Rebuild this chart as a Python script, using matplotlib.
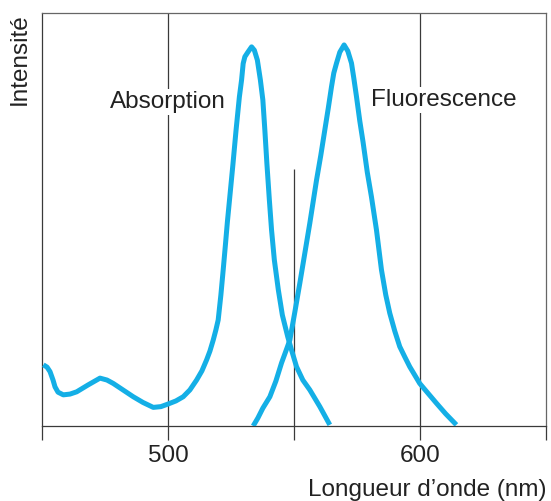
import matplotlib.pyplot as plt

plt.rcParams['font.family'] = ['Liberation Sans', 'DejaVu Sans']

# spectres (longueur d'onde en nm, intensite normalisee)
abs_nm = [450.36, 451.83, 453.02, 454.21, 455.0, 456.19, 458.29, 460.95, 463.61,
          468.10, 472.86, 475.63, 478.13, 481.98, 486.07, 489.92, 494.01, 497.06,
          499.96, 503.02, 505.91, 508.57, 511.23, 513.33, 515.20, 516.51, 517.82,
          518.89, 519.80, 520.87, 521.79, 522.66, 523.45, 524.44, 525.63, 526.90,
          528.21, 529.09, 529.72, 530.40, 531.59, 533.06, 534.17, 535.36, 536.55,
          537.54, 538.33, 539.13, 540.12, 540.99, 542.10, 543.69, 545.28, 547.46,
          548.93, 550.91, 553.41, 556.19, 560.16, 564.13]
abs_int = [0.161, 0.155, 0.143, 0.121, 0.103, 0.089, 0.082, 0.084, 0.090,
           0.108, 0.126, 0.121, 0.112, 0.095, 0.077, 0.062, 0.049, 0.051,
           0.058, 0.066, 0.077, 0.095, 0.121, 0.145, 0.174, 0.197, 0.226,
           0.253, 0.279, 0.345, 0.411, 0.476, 0.537, 0.605, 0.687, 0.779,
           0.866, 0.911, 0.954, 0.972, 0.984, 0.998, 0.989, 0.963, 0.911,
           0.858, 0.779, 0.692, 0.595, 0.516, 0.437, 0.358, 0.292, 0.234,
           0.200, 0.156, 0.121, 0.095, 0.051, 0.003]

fluo_nm = [533.69, 535.56, 537.54, 540.32, 542.70, 544.96, 546.67, 548.25, 550.24,
           552.22, 554.21, 556.19, 558.85, 560.56, 562.14, 563.53, 564.80, 565.71,
           566.79, 568.10, 569.80, 571.27, 572.74, 573.65, 574.72, 576.03, 577.34,
           579.01, 580.67, 582.66, 584.64, 586.35, 587.94, 589.92, 591.90, 593.89,
           595.87, 597.86, 599.84, 603.02, 606.47, 610.16, 614.40]
fluo_int = [0.0, 0.021, 0.047, 0.077, 0.118, 0.166, 0.197, 0.226, 0.300,
            0.376, 0.455, 0.534, 0.647, 0.713, 0.779, 0.837, 0.893, 0.929,
            0.955, 0.984, 1.003, 0.987, 0.955, 0.916, 0.867, 0.803, 0.747,
            0.668, 0.603, 0.516, 0.411, 0.345, 0.297, 0.250, 0.209, 0.182,
            0.156, 0.134, 0.112, 0.087, 0.060, 0.032, 0.003]

xticks = [450, 500, 550, 600, 650]
xticklabels = ['', '500', '', '600', '']

bleu = '#14AFE6'
gris = '#3a3a3a'

fig = plt.figure(figsize=(5.51, 5.01), dpi=100)
ax = fig.add_axes([0.077, 0.1497, 0.914, 0.8243])

ax.axvline(500, color=gris, lw=0.9, zorder=1)
ax.axvline(600, color=gris, lw=0.9, zorder=1)
ax.vlines(550, 0, 0.676, color=gris, lw=0.9, zorder=1)

for xs, ys in [(abs_nm, abs_int), (fluo_nm, fluo_int)]:
    ax.plot(xs, ys, color=bleu, lw=3.6, solid_capstyle='butt',
            solid_joinstyle='round', zorder=3)

boite = dict(facecolor='white', edgecolor='none', pad=1.5)
ax.text(500, 0.853, 'Absorption', ha='center', va='center', fontsize=17.5,
        color='#222222', bbox=boite, zorder=2)
ax.text(609.4, 0.858, 'Fluorescence', ha='center', va='center', fontsize=17.5,
        color='#222222', bbox=boite, zorder=2)

ax.set_xlim(450, 650)
ax.set_ylim(0, 1.087)
ax.set_xticks(xticks)
ax.set_xticklabels(xticklabels)
ax.set_yticks([])
ax.tick_params(axis='x', direction='out', length=10, width=0.9, color=gris,
               labelsize=17.5, labelcolor='#222222', pad=4)

for s in ['left', 'bottom']:
    ax.spines[s].set_color(gris)
    ax.spines[s].set_linewidth(0.9)
for s in ['top', 'right']:
    ax.spines[s].set_color('#666666')
    ax.spines[s].set_linewidth(0.9)

fig.text(0.036, 0.974, 'Intensité', rotation=90, ha='center', va='top',
         fontsize=17.5, color='#222222')
fig.text(0.991, 0.009, 'Longueur d\u2019onde (nm)', ha='right', va='baseline',
         fontsize=17.5, color='#222222')

fig.savefig('out.png', dpi=100)
